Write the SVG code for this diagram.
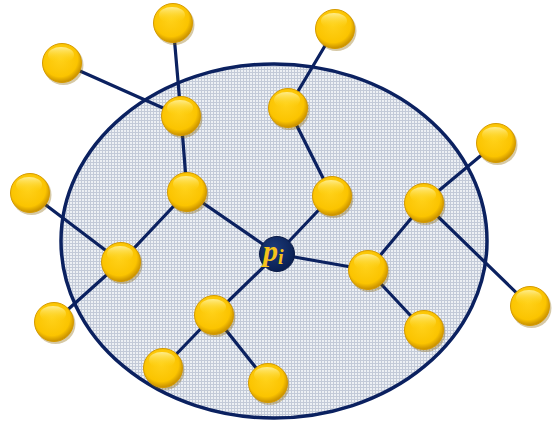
<svg xmlns="http://www.w3.org/2000/svg" width="553" height="421" viewBox="0 0 553 421">
<defs>
<pattern id="grid" width="3" height="3" patternUnits="userSpaceOnUse">
<rect width="3" height="3" fill="#edf0f4"/>
<path d="M0 0.5H3M0.5 0V3" stroke="#c3cad8" stroke-width="1"/>
</pattern>
<radialGradient id="gold" cx="0.45" cy="0.4" r="0.6">
<stop offset="0" stop-color="#ffd11a"/>
<stop offset="0.75" stop-color="#fbc400"/>
<stop offset="1" stop-color="#c78f00"/>
</radialGradient>
<linearGradient id="shine" x1="0" y1="0" x2="0" y2="1">
<stop offset="0" stop-color="#fff6b0" stop-opacity="0.8"/>
<stop offset="1" stop-color="#ffd200" stop-opacity="0"/>
</linearGradient>
<radialGradient id="navy" cx="0.4" cy="0.35" r="0.65">
<stop offset="0" stop-color="#1c3b7a"/>
<stop offset="1" stop-color="#0a1f52"/>
</radialGradient>
<g id="ball">
<circle r="20" fill="#8a6500" opacity="0.35" cx="1.5" cy="2"/>
<circle r="19.5" fill="url(#gold)" stroke="#d59a00" stroke-width="1"/>
<ellipse cx="-1" cy="-8" rx="13" ry="8" fill="url(#shine)"/>
</g>
</defs>
<style>
.e{stroke:#0b2160;stroke-width:3.2;fill:none;stroke-linecap:round}
</style>
<ellipse id="region" cx="274" cy="241" rx="213" ry="177" fill="url(#grid)" stroke="#0b2160" stroke-width="3.5"/>
<g id="connectors" class="e">
<line class="e" x1="173" y1="23" x2="181" y2="116"/>
<line class="e" x1="62" y1="63" x2="181" y2="116"/>
<line class="e" x1="181" y1="116" x2="187" y2="192"/>
<line class="e" x1="335" y1="29" x2="288" y2="108"/>
<line class="e" x1="288" y1="108" x2="332" y2="196"/>
<line class="e" x1="332" y1="196" x2="277" y2="254"/>
<line class="e" x1="187" y1="192" x2="277" y2="254"/>
<line class="e" x1="187" y1="192" x2="121" y2="262"/>
<line class="e" x1="30" y1="193" x2="121" y2="262"/>
<line class="e" x1="121" y1="262" x2="54" y2="322"/>
<line class="e" x1="277" y1="254" x2="368" y2="270"/>
<line class="e" x1="277" y1="254" x2="214" y2="315"/>
<line class="e" x1="214" y1="315" x2="163" y2="368"/>
<line class="e" x1="214" y1="315" x2="268" y2="383"/>
<line class="e" x1="368" y1="270" x2="424" y2="203"/>
<line class="e" x1="368" y1="270" x2="424" y2="330"/>
<line class="e" x1="424" y1="203" x2="496" y2="143"/>
<line class="e" x1="424" y1="203" x2="530" y2="306"/>
</g>
<g id="n1"><use href="#ball" x="173" y="23"/></g>
<g id="n2"><use href="#ball" x="62" y="63"/></g>
<g id="n3"><use href="#ball" x="335" y="29"/></g>
<g id="n4"><use href="#ball" x="181" y="116"/></g>
<g id="n5"><use href="#ball" x="288" y="108"/></g>
<g id="n6"><use href="#ball" x="187" y="192"/></g>
<g id="n7"><use href="#ball" x="332" y="196"/></g>
<g id="n8"><use href="#ball" x="30" y="193"/></g>
<g id="n9"><use href="#ball" x="121" y="262"/></g>
<g id="n10"><use href="#ball" x="54" y="322"/></g>
<g id="n12"><use href="#ball" x="368" y="270"/></g>
<g id="n13"><use href="#ball" x="424" y="203"/></g>
<g id="n14"><use href="#ball" x="496" y="143"/></g>
<g id="n15"><use href="#ball" x="530" y="306"/></g>
<g id="n16"><use href="#ball" x="424" y="330"/></g>
<g id="n17"><use href="#ball" x="214" y="315"/></g>
<g id="n18"><use href="#ball" x="163" y="368"/></g>
<g id="n19"><use href="#ball" x="268" y="383"/></g>
<g id="pi">
<circle cx="277" cy="254" r="17.5" fill="url(#navy)" stroke="#0a1a45" stroke-width="1"/>
<text x="263" y="261" font-family="Liberation Serif, serif" font-style="italic" font-weight="bold" font-size="30" fill="#f7c31a">p<tspan font-size="20" dy="3">i</tspan></text>
</g>
</svg>
